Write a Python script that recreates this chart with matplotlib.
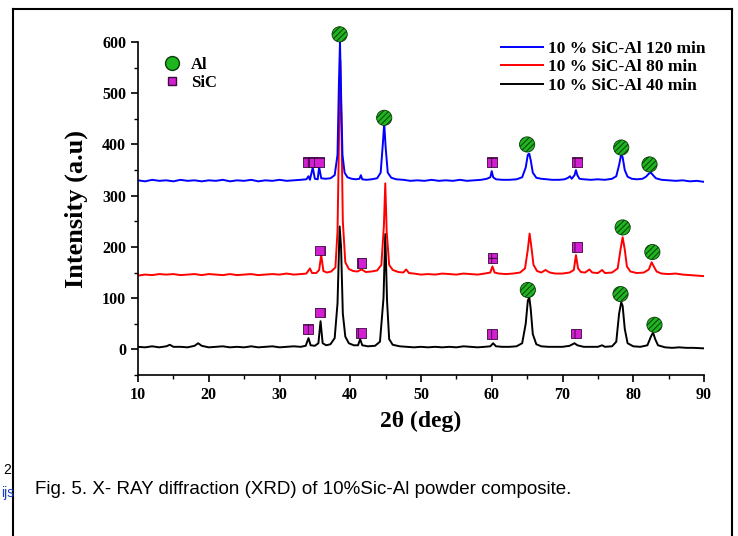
import matplotlib.pyplot as plt
from matplotlib.lines import Line2D

# 2theta / intensity
x120 = [10, 11, 12, 13, 14, 15, 16, 17, 18, 19, 20, 21, 22, 23, 24, 25, 26, 27, 28, 29, 30, 31, 32, 33,
        33.8, 34.1, 34.3, 34.7, 35.0, 35.4, 35.6, 35.9, 36.5, 37.2, 37.8, 38.2, 38.4, 38.55, 38.7, 38.9,
        39.2, 39.6, 40.2, 40.8, 41.3, 41.5, 41.7, 42.3, 43, 43.8, 44.3, 44.6, 44.8, 45.0, 45.3, 45.8, 46.5,
        47.5, 48.5, 49.5, 50.5, 51.5, 52.5, 53.5, 54.5, 55.5, 56.5, 57.5, 58.5, 59.3, 59.8, 60.0, 60.2,
        60.6, 61.5, 62.5, 63.5, 64.3, 64.8, 65.1, 65.3, 65.5, 65.8, 66.3, 67, 67.8, 68.5, 69.5, 70.3, 70.8,
        71.05, 71.3, 71.7, 71.9, 72.1, 72.4, 73, 74, 75, 76, 77, 77.6, 78.0, 78.3, 78.5, 78.8, 79.2, 79.8,
        80.5, 81.3, 81.8, 82.2, 82.5, 82.8, 83.2, 84, 85, 86, 87, 88, 89, 90]
y120 = [330, 328, 331, 329, 330, 328, 331, 329, 330, 328, 330, 329, 331, 328, 330, 329, 331, 328, 330, 329, 331, 329, 330, 331,
        332, 338, 331, 355, 333, 332, 356, 334, 333, 334, 340, 380, 520, 600, 500, 380,
        345, 336, 333, 332, 333, 340, 332, 331, 332, 334, 345, 400, 441, 395, 345, 335, 332,
        331, 329, 330, 329, 331, 329, 330, 329, 331, 329, 330, 331, 333, 336, 348, 336,
        332, 331, 331, 332, 336, 355, 380, 382, 370, 345, 335, 333, 332, 331, 331, 332, 335,
        338, 333, 340, 350, 340, 333, 332, 331, 332, 331, 333, 338, 360, 381, 375, 350, 337, 333,
        332, 333, 337, 343, 345, 340, 334, 331, 330, 329, 330, 328, 329, 327]

x80 = [10, 11, 12, 13, 14, 15, 16, 17, 18, 19, 20, 21, 22, 23, 24, 25, 26, 27, 28, 29, 30, 31, 32, 33,
       33.8, 34.3, 34.6, 35.2, 35.6, 35.9, 36.2, 36.7, 37.3, 37.9, 38.2, 38.45, 38.6, 38.75, 38.95, 39.3,
       39.8, 40.4, 41.0, 41.6, 42.2, 43, 43.8, 44.4, 44.75, 44.95, 45.15, 45.5, 46, 46.8, 47.5, 47.9, 48.3,
       49, 50, 51, 52, 53, 54, 55, 56, 57, 58, 59, 59.8, 60.1, 60.4, 61, 62, 63, 64, 64.7, 65.1, 65.35,
       65.6, 65.9, 66.4, 67, 67.6, 68.2, 69, 70, 71, 71.6, 71.9, 72.2, 72.6, 73.2, 73.8, 74.2, 75, 75.6,
       76, 77, 77.8, 78.2, 78.5, 78.8, 79.1, 79.6, 80.5, 81.5, 82.2, 82.6, 82.9, 83.3, 84, 85, 86, 87,
       88, 89, 90]
y80 = [144, 146, 145, 147, 146, 147, 145, 146, 147, 145, 147, 146, 145, 147, 145, 146, 147, 145, 146, 147, 146, 148, 146, 147,
       148, 158, 149, 149, 155, 184, 153, 150, 152, 160, 230, 450, 564, 440, 250, 170,
       157, 153, 152, 156, 151, 152, 154, 165, 240, 324, 230, 165, 155, 151, 150, 156, 149,
       148, 146, 147, 146, 148, 147, 146, 148, 147, 146, 148, 150, 162, 150, 148, 147, 148, 150, 158, 195, 226,
       200, 165, 153, 150, 155, 150, 148, 148, 150, 155, 184, 158, 151, 150, 156, 150, 149, 155,
       149, 150, 158, 195, 219, 195, 162, 152, 149, 150, 156, 170, 162, 152, 148, 147, 148, 146,
       145, 144, 143]

x40 = [10, 11, 12, 13, 14, 14.5, 15, 16, 17, 18, 18.5, 19, 20, 21, 22, 23, 24, 25, 26, 27, 28, 29, 30, 31,
       32, 33, 33.7, 34.1, 34.4, 35, 35.5, 35.8, 36.1, 36.6, 37.2, 37.8, 38.2, 38.5, 38.7, 38.95, 39.3,
       39.8, 40.5, 41.1, 41.4, 41.7, 42.5, 43.5, 44.2, 44.7, 44.95, 45.2, 45.5, 46, 47, 48, 49, 50, 51, 52,
       53, 54, 55, 56, 57, 58, 59, 59.8, 60.2, 60.6, 61.5, 62.5, 63.5, 64.3, 64.8, 65.1, 65.3, 65.5, 65.8,
       66.3, 67, 68, 69, 70, 71, 71.7, 72.1, 73, 74, 75, 75.6, 76, 77, 77.6, 78.0, 78.3, 78.5, 78.8, 79.2,
       80, 81, 82, 82.5, 82.8, 83.1, 83.5, 84.5, 85.5, 86.5, 87.5, 88.5, 90]
y40 = [5, 4, 6, 4, 6, 9, 5, 5, 4, 7, 12, 7, 4, 5, 6, 4, 5, 4, 6, 4, 5, 6, 4, 5,
       6, 5, 7, 22, 8, 7, 12, 55, 12, 8, 10, 22, 90, 240, 200, 70, 25,
       12, 8, 8, 20, 8, 6, 7, 15, 100, 225, 95, 20, 9, 6, 5, 4, 5, 4, 5,
       4, 5, 4, 6, 5, 4, 5, 6, 12, 6, 5, 5, 6, 12, 50, 95, 102, 80, 30,
       10, 6, 5, 5, 5, 7, 12, 8, 5, 5, 5, 8, 5, 6, 15, 70, 92, 85, 40, 12,
       6, 5, 8, 25, 33, 20, 8, 4, 3, 4, 3, 3, 2]

# phase markers (2theta, height)
al_x = [38.5, 44.8, 65.0, 78.3, 82.3, 78.5, 82.7, 65.1, 78.2, 83.0]
al_y = [615, 452, 400, 394, 361, 238, 190, 116, 108, 48]
sic_x = [34.0, 34.8, 35.6, 60.0, 72.0, 35.7, 41.6, 60.1, 72.0, 34.0, 35.7, 41.5, 60.0, 71.9]
sic_y = [366, 366, 366, 365, 365, 193, 168, 179, 200, 40, 72, 32, 30, 31]

labels = ['10 % SiC-Al 120 min', '10 % SiC-Al 80 min', '10 % SiC-Al 40 min']

plt.rcParams['font.family'] = 'Liberation Serif'
plt.rcParams['font.weight'] = 'bold'
plt.rcParams['hatch.linewidth'] = 0.7

fig = plt.figure(figsize=(7.38, 5.36), dpi=100)
ax = fig.add_axes([138 / 738, 1 - 375 / 536, 566 / 738, 333 / 536])

ax.plot(x40, y40, color='black', lw=1.4)
ax.plot(x80, y80, color='red', lw=1.4)
ax.plot(x120, y120, color='blue', lw=1.4)

ax.scatter(al_x, al_y, s=120, marker='o', facecolor='#1fb51f', edgecolor='#0a3a0a',
           hatch='//////', lw=0.6, zorder=5, clip_on=False)
ax.scatter(sic_x, sic_y, s=50, marker='s', facecolor='#d21fd2', edgecolor='#3a0a3a',
           hatch='+', lw=0.6, zorder=5, clip_on=False)

ax.set_xlim(10, 90)
ax.set_ylim(-50, 600)
ax.set_xticks(range(10, 91, 10))
ax.set_xticks(range(15, 90, 10), minor=True)
ax.set_yticks(range(0, 601, 100))
ax.set_yticks(range(-50, 600, 100), minor=True)
ax.tick_params(which='major', direction='out', length=5, width=1.2, labelsize=11.5)
ax.tick_params(which='minor', direction='out', length=3, width=1.0)
ax.spines['top'].set_visible(False)
ax.spines['right'].set_visible(False)
ax.spines['left'].set_linewidth(1.2)
ax.spines['bottom'].set_linewidth(1.2)

ax.set_ylabel('Intensity (a.u)', fontsize=19, fontweight='bold', labelpad=10)
ax.set_xlabel('2θ (deg)', fontsize=17, fontweight='bold', labelpad=6)

# phase key, top left
ph = [Line2D([], [], ls='none', marker='o', ms=10, mfc='#1fb51f', mec='#0a3a0a'),
      Line2D([], [], ls='none', marker='s', ms=6, mfc='#d21fd2', mec='#3a0a3a')]
ax.legend(ph, ['Al', 'SiC'], loc='upper left', bbox_to_anchor=(0.005, 1.0), frameon=False,
          fontsize=12, handletextpad=0.1, labelspacing=0.1)
ax.add_artist(ax.get_legend())

lines = [Line2D([], [], color=c, lw=1.4) for c in ['blue', 'red', 'black']]
ax.legend(lines, labels, loc='upper right', bbox_to_anchor=(1.03, 1.05), frameon=False,
          fontsize=12.5, handlelength=2.4, handletextpad=0.3, labelspacing=0.12)

# page frame and caption
fig.add_artist(Line2D([13 / 738, 13 / 738], [0, 1 - 9 / 536], color='black', lw=1.5))
fig.add_artist(Line2D([13 / 738, 732 / 738], [1 - 9 / 536, 1 - 9 / 536], color='black', lw=1.5))
fig.add_artist(Line2D([732 / 738, 732 / 738], [0, 1 - 9 / 536], color='black', lw=1.5))

fig.text(35 / 738, 1 - 490 / 536, 'Fig. 5. X- RAY diffraction (XRD) of 10%Sic-Al powder composite.',
         family='Liberation Sans', fontweight='normal', fontsize=13.5, va='center')
fig.text(3 / 738, 1 - 470 / 536, '2', family='Liberation Sans', fontweight='normal', fontsize=10, va='center')
fig.text(1 / 738, 1 - 493 / 536, 'ijs', family='Liberation Sans', fontweight='normal', fontsize=10,
         color='#1a3fbf', va='center')

fig.savefig('out.png', dpi=100)
